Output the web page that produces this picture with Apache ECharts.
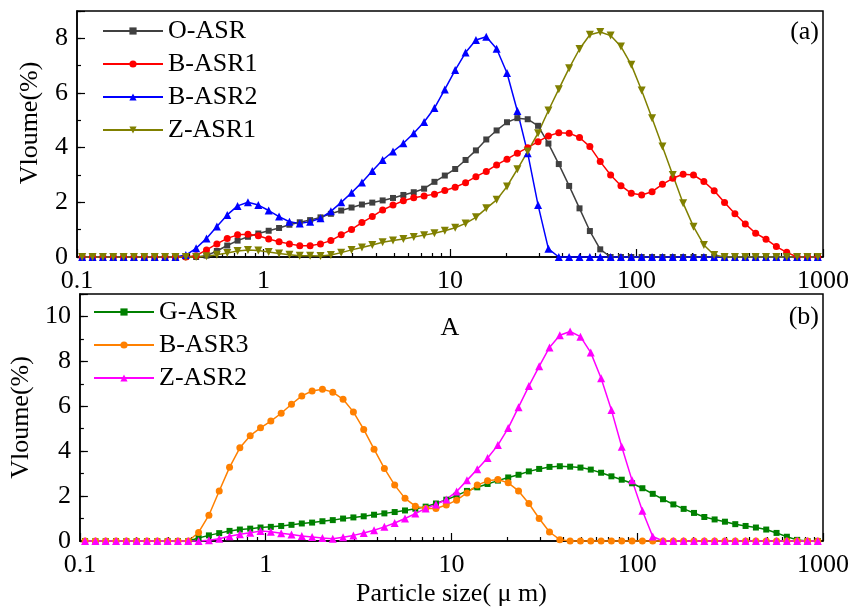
<!DOCTYPE html>
<html>
<head>
<meta charset="utf-8">
<script src="https://cdn.jsdelivr.net/npm/echarts@6/dist/echarts.min.js"></script>
<style>html,body{margin:0;padding:0;background:#fff}#c{width:852px;height:610px}</style>
</head>
<body>
<div id="c"></div>
<script>
// Particle size classes (µm)
const sizes = [
  0.1066, 0.1212, 0.1377, 0.1565, 0.1778, 0.2020, 0.2296, 0.2610, 0.2966, 0.3371,
  0.3831, 0.4354, 0.4948, 0.5623, 0.6390, 0.7262, 0.8254, 0.9380, 1.066, 1.212,
  1.377, 1.565, 1.778, 2.021, 2.297, 2.610, 2.966, 3.371, 3.831, 4.354,
  4.948, 5.623, 6.391, 7.263, 8.254, 9.380, 10.66, 12.12, 13.77, 15.65,
  17.78, 20.21, 22.97, 26.10, 29.66, 33.71, 38.31, 43.54, 49.48, 56.23,
  63.91, 72.63, 82.54, 93.80, 106.6, 121.2, 137.7, 156.5, 177.8, 202.1,
  229.7, 261.0, 296.6, 337.1, 383.1, 435.4, 494.8, 562.3, 639.1, 726.3,
  825.4, 938.0
];
// Panel (a)
const oASR = [
  0,0,0,0,0,0,0,0,0,0,
  0,0,0.05,0.22,0.42,0.6,0.74,0.86,0.96,1.06,
  1.18,1.27,1.35,1.45,1.58,1.7,1.81,1.92,1.99,2.07,
  2.16,2.27,2.37,2.5,2.75,2.98,3.22,3.55,3.9,4.3,
  4.63,4.93,5.08,5.04,4.8,4.15,3.4,2.6,1.78,0.95,
  0.28,0,0,0,0,0,0,0,0,0,
  0,0,0,0,0,0,0,0,0,0,
  0,0
];
const bASR1 = [
  0,0,0,0,0,0,0,0,0,0,
  0,0.05,0.26,0.48,0.68,0.81,0.83,0.78,0.66,0.56,
  0.48,0.41,0.41,0.48,0.6,0.81,1.01,1.26,1.48,1.72,
  1.9,2.06,2.17,2.23,2.3,2.43,2.55,2.72,2.94,3.13,
  3.37,3.58,3.8,4.0,4.22,4.43,4.55,4.53,4.37,4.04,
  3.49,3.0,2.61,2.33,2.27,2.39,2.66,2.88,3.03,3.0,
  2.76,2.42,1.99,1.58,1.21,0.87,0.65,0.38,0.17,0,
  0,0
];
const bASR2 = [
  0,0,0,0,0,0,0,0,0,0,
  0.07,0.32,0.68,1.12,1.54,1.87,2.0,1.9,1.7,1.48,
  1.29,1.23,1.29,1.42,1.67,2.0,2.35,2.73,3.15,3.55,
  3.86,4.16,4.53,4.94,5.45,6.13,6.84,7.48,7.94,8.06,
  7.62,6.73,5.34,3.8,1.9,0.3,0,0,0,0,
  0,0,0,0,0,0,0,0,0,0,
  0,0,0,0,0,0,0,0,0,0,
  0,0
];
const zASR1 = [
  0,0,0,0,0,0,0,0,0,0,
  0,0,0.03,0.08,0.15,0.22,0.26,0.24,0.18,0.13,
  0.08,0.05,0.05,0.04,0.07,0.16,0.26,0.35,0.44,0.54,
  0.6,0.66,0.73,0.8,0.87,0.96,1.07,1.23,1.45,1.78,
  2.09,2.58,3.21,3.86,4.53,5.36,6.14,6.91,7.61,8.13,
  8.23,8.1,7.7,7.03,6.09,5.08,4.04,3.0,1.97,1.11,
  0.44,0.07,0,0,0,0,0,0,0,0,
  0,0
];
// Panel (b)
const gASR = [
  0,0,0,0,0,0,0,0,0,0,
  0,0.13,0.25,0.35,0.45,0.51,0.55,0.6,0.63,0.67,
  0.72,0.78,0.82,0.88,0.93,1.0,1.05,1.1,1.17,1.23,
  1.29,1.36,1.44,1.53,1.67,1.84,2.02,2.23,2.39,2.54,
  2.69,2.83,2.95,3.1,3.21,3.3,3.33,3.31,3.27,3.18,
  3.04,2.88,2.73,2.57,2.35,2.1,1.86,1.63,1.43,1.25,
  1.07,0.96,0.86,0.75,0.67,0.6,0.51,0.36,0.19,0.05,
  0,0
];
const bASR3 = [
  0,0,0,0,0,0,0,0,0,0,
  0,0.38,1.15,2.23,3.28,4.15,4.69,5.04,5.34,5.69,
  6.09,6.46,6.68,6.76,6.63,6.31,5.75,4.97,4.09,3.23,
  2.49,1.9,1.55,1.45,1.45,1.6,1.82,2.14,2.49,2.68,
  2.74,2.59,2.23,1.67,1.0,0.4,0.06,0,0,0,
  0,0,0,0,0,0,0,0,0,0,
  0,0,0,0,0,0,0,0,0,0,
  0,0
];
const zASR2 = [
  0,0,0,0,0,0,0,0,0,0,
  0,0,0.03,0.1,0.21,0.3,0.37,0.44,0.41,0.34,
  0.29,0.22,0.18,0.13,0.1,0.17,0.25,0.36,0.48,0.63,
  0.8,1.0,1.22,1.45,1.63,1.85,2.2,2.7,3.2,3.7,
  4.27,5.03,5.96,6.9,7.78,8.62,9.16,9.33,9.1,8.39,
  7.25,5.83,4.2,2.7,1.35,0.2,0,0,0,0,
  0,0,0,0,0,0,0,0,0,0,
  0,0
];
// Minor tick values of the log axis
const xMinorTicks = [0.2,0.3,0.4,0.5,0.6,0.7,0.8,0.9, 2,3,4,5,6,7,8,9,
  20,30,40,50,60,70,80,90, 200,300,400,500,600,700,800,900];
const yMaxA = 9, yMaxB = 11;

const FONT = '"Liberation Serif", "Times New Roman", serif';
const BLACK = '#000';
const chart = echarts.init(document.getElementById('c'), null, {renderer: 'canvas'});

const seriesDefs = [
  {name: 'O-ASR',  data: oASR,  g: 0, color: '#404040', symbol: 'rect',     size: 6, rot: 0},
  {name: 'B-ASR1', data: bASR1, g: 0, color: '#ff0000', symbol: 'circle',   size: 7, rot: 0},
  {name: 'B-ASR2', data: bASR2, g: 0, color: '#0000ff', symbol: 'triangle', size: 8, rot: 0},
  {name: 'Z-ASR1', data: zASR1, g: 0, color: '#808000', symbol: 'triangle', size: 8, rot: 180},
  {name: 'G-ASR',  data: gASR,  g: 1, color: '#008000', symbol: 'rect',     size: 6, rot: 0},
  {name: 'B-ASR3', data: bASR3, g: 1, color: '#ff8000', symbol: 'circle',   size: 7, rot: 0},
  {name: 'Z-ASR2', data: zASR2, g: 1, color: '#ff00ff', symbol: 'triangle', size: 8, rot: 0}
];

function mainX(g) {
  const ax = {
    type: 'log', logBase: 10, gridIndex: g, min: 0.1, max: 1000, position: 'bottom',
    axisLine: {show: true, onZero: false, lineStyle: {color: BLACK, width: 1.5}},
    axisTick: {show: true, inside: true, length: 8, lineStyle: {color: BLACK, width: 1.2}},
    axisLabel: {show: true, margin: 11, color: BLACK, fontFamily: FONT, fontSize: 26,
      formatter: v => String(+Number(v).toPrecision(4))},
    splitLine: {show: false}
  };
  if (g === 1) {
    ax.name = 'Particle size( \u03bc m)';
    ax.nameLocation = 'middle';
    ax.nameGap = 40;
    ax.nameTextStyle = {color: BLACK, fontFamily: FONT, fontSize: 26};
  }
  return ax;
}
function minorX(g) {
  return {
    type: 'value', gridIndex: g, min: -1, max: 3, position: 'bottom',
    axisLine: {show: false, onZero: false},
    axisLabel: {show: false}, splitLine: {show: false},
    axisTick: {show: true, inside: true, length: 4, customValues: xMinorTicks.map(Math.log10),
      lineStyle: {color: BLACK, width: 1.2}}
  };
}
function mainY(g, max, pad) {
  return {
    type: 'value', gridIndex: g, min: 0, max: max, interval: 2, position: 'left',
    axisLine: {show: true, onZero: false, lineStyle: {color: BLACK, width: 1.5}},
    axisTick: {show: true, inside: true, length: 8, lineStyle: {color: BLACK, width: 1.2}},
    axisLabel: {margin: 9, color: BLACK, fontFamily: FONT, fontSize: 26,
      formatter: v => (v % 2 === 0 ? String(v) : '')},
    splitLine: {show: false},
    name: 'Vloume(%)', nameLocation: 'middle', nameGap: 34,
    nameTextStyle: {color: BLACK, fontFamily: FONT, fontSize: 26, padding: pad}
  };
}
function minorY(g, max) {
  return {
    type: 'value', gridIndex: g, min: 0, max: max, interval: 1, position: 'left',
    axisLine: {show: false, onZero: false}, axisLabel: {show: false}, splitLine: {show: false},
    axisTick: {show: true, inside: true, length: 4, lineStyle: {color: BLACK, width: 1.2}}
  };
}

const series = seriesDefs.map(d => ({
  name: d.name, type: 'line', xAxisIndex: d.g, yAxisIndex: d.g,
  data: sizes.map((x, i) => [x, d.data[i]]),
  symbol: d.symbol, symbolSize: d.size, symbolRotate: d.rot, showAllSymbol: true,
  lineStyle: {color: d.color, width: 1.5},
  itemStyle: {color: d.color},
  clip: false,
  z: 3
}));

function legend(g, left, top) {
  return {
    show: true, orient: 'vertical', left: left, top: top, padding: 0,
    data: seriesDefs.filter(d => d.g === g).map(d => d.name),
    itemWidth: 60, itemHeight: 9, itemGap: 7,
    textStyle: {color: BLACK, fontFamily: FONT, fontSize: 26, lineHeight: 26},
    selectedMode: false
  };
}

chart.setOption({
  backgroundColor: '#fff',
  animation: false,
  grid: [
    {left: 77, top: 11, width: 747, height: 246, show: true, borderColor: BLACK, borderWidth: 1.5, backgroundColor: 'transparent'},
    {left: 77, top: 294, width: 747, height: 247, show: true, borderColor: BLACK, borderWidth: 1.5, backgroundColor: 'transparent'}
  ],
  xAxis: [mainX(0), mainX(1), minorX(0), minorX(1)],
  yAxis: [mainY(0, yMaxA, [0, 0, 0, 22]), mainY(1, yMaxB, 0), minorY(0, yMaxA), minorY(1, yMaxB)],
  legend: [legend(0, 102, 18), legend(1, 93, 299)],
  series: series,
  graphic: [
    {type: 'text', x: 819, y: 32, style: {text: '(a)', font: '26px "Liberation Serif"', fill: BLACK, align: 'right', verticalAlign: 'middle'}},
    {type: 'text', x: 819, y: 317, style: {text: '(b)', font: '26px "Liberation Serif"', fill: BLACK, align: 'right', verticalAlign: 'middle'}},
    {type: 'text', x: 450, y: 328, style: {text: 'A', font: '26px "Liberation Serif"', fill: BLACK, align: 'center', verticalAlign: 'middle'}}
  ]
});
</script>
</body>
</html>
